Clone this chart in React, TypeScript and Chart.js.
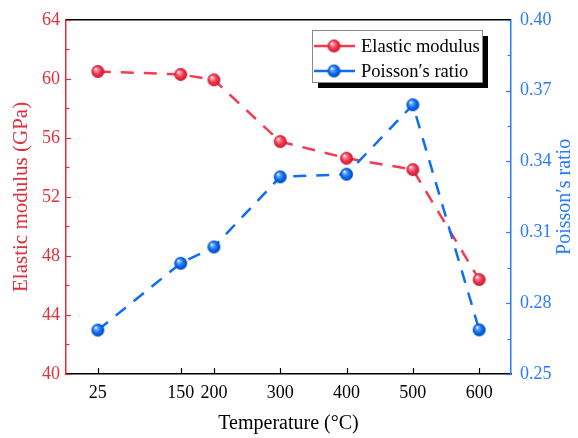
import React, { useEffect, useRef } from "react";
import { Chart, registerables } from "chart.js";

Chart.register(...registerables);

const temperatures = [25, 150, 200, 300, 400, 500, 600];
const elasticModulus = [60.5, 60.3, 59.93, 55.75, 54.62, 53.85, 46.4];
const poissonRatio = [0.2686, 0.2969, 0.3038, 0.3335, 0.3346, 0.364, 0.2687];

const xTicks = [25, 150, 200, 300, 400, 500, 600];
const leftTicks = [40, 44, 48, 52, 56, 60, 64];
const leftMinor = [42, 46, 50, 54, 58, 62];
const rightTicks = [0.25, 0.28, 0.31, 0.34, 0.37, 0.4];
const rightMinor = [0.265, 0.295, 0.325, 0.355, 0.385];

const labelModulus = "Elastic modulus";
const labelPoisson = "Poisson\u2032s ratio";
const titleX = "Temperature (\u00b0C)";
const titleLeft = "Elastic modulus (GPa)";
const titleRight = "Poisson\u2032s ratio";

const FONT = '"Liberation Serif", "Times New Roman", serif';
const RED_LINE = "#f63a52";
const RED_AXIS = "#e0303c";
const BLUE_LINE = "#0d6ef5";
const BLUE_AXIS = "#2a7bff";

function sphere(base: string, light: string, dark: string, r: number) {
  const c = document.createElement("canvas");
  const s = Math.ceil(r * 2 + 2);
  c.width = s;
  c.height = s;
  const g = c.getContext("2d")!;
  const cx = s / 2;
  const cy = s / 2;
  const grad = g.createRadialGradient(cx - r * 0.35, cy - r * 0.4, r * 0.05, cx, cy, r);
  grad.addColorStop(0, "#ffffff");
  grad.addColorStop(0.22, light);
  grad.addColorStop(0.6, base);
  grad.addColorStop(1, dark);
  g.fillStyle = grad;
  g.beginPath();
  g.arc(cx, cy, r, 0, Math.PI * 2);
  g.fill();
  return c;
}

export default function App() {
  const ref = useRef<HTMLCanvasElement | null>(null);

  useEffect(() => {
    if (!ref.current) return;
    const redBall = sphere("#f2334c", "#ff8a9a", "#c41a30", 6.5);
    const blueBall = sphere("#0a6cf2", "#6aa8ff", "#0048b8", 6.5);

    const line = (ctx: CanvasRenderingContext2D, x1: number, y1: number, x2: number, y2: number) => {
      ctx.beginPath();
      ctx.moveTo(x1, y1);
      ctx.lineTo(x2, y2);
      ctx.stroke();
    };

    const decor = {
      id: "decor",
      afterDraw(chart: any) {
        const ctx: CanvasRenderingContext2D = chart.ctx;
        const { left, right, top, bottom } = chart.chartArea;
        const sx = chart.scales.x;
        const sy = chart.scales.y;
        const sy1 = chart.scales.y1;
        ctx.save();
        ctx.setLineDash([]);
        // top border
        ctx.strokeStyle = "#000";
        ctx.lineWidth = 1.5;
        line(ctx, left, top, right, top);
        // x ticks (inward)
        ctx.lineWidth = 1.2;
        xTicks.forEach((v) => {
          const px = Math.round(sx.getPixelForValue(v)) + 0.5;
          line(ctx, px, bottom, px, bottom - 6);
        });
        // left ticks
        ctx.strokeStyle = RED_AXIS;
        leftTicks.forEach((v) => {
          const py = Math.round(sy.getPixelForValue(v)) + 0.5;
          line(ctx, left, py, left + 5, py);
        });
        leftMinor.forEach((v) => {
          const py = Math.round(sy.getPixelForValue(v)) + 0.5;
          line(ctx, left, py, left + 3.5, py);
        });
        // right ticks
        ctx.strokeStyle = BLUE_AXIS;
        rightTicks.forEach((v) => {
          const py = Math.round(sy1.getPixelForValue(v)) + 0.5;
          line(ctx, right, py, right - 5, py);
        });
        rightMinor.forEach((v) => {
          const py = Math.round(sy1.getPixelForValue(v)) + 0.5;
          line(ctx, right, py, right - 3.5, py);
        });
        // right title (reads bottom to top)
        ctx.save();
        ctx.translate(565, (top + bottom) / 2);
        ctx.rotate(-Math.PI / 2);
        ctx.fillStyle = BLUE_AXIS;
        ctx.font = `20px ${FONT}`;
        ctx.textAlign = "center";
        ctx.textBaseline = "middle";
        ctx.fillText(titleRight, 0, 0);
        ctx.restore();

        // legend
        const lx = 312;
        const ly = 30;
        const lw = 170;
        const lh = 52;
        ctx.fillStyle = "#000";
        ctx.fillRect(lx + 6, ly + 6, lw, lh);
        ctx.fillStyle = "#fff";
        ctx.fillRect(lx, ly, lw, lh);
        ctx.strokeStyle = "#8a8a8a";
        ctx.lineWidth = 1;
        ctx.strokeRect(lx + 0.5, ly + 0.5, lw, lh);
        const rows = [
          { label: labelModulus, color: RED_LINE, ball: redBall, y: ly + 16 },
          { label: labelPoisson, color: BLUE_LINE, ball: blueBall, y: ly + 41 },
        ];
        rows.forEach((r) => {
          ctx.strokeStyle = r.color;
          ctx.lineWidth = 2.5;
          line(ctx, lx + 2, r.y, lx + 43, r.y);
          ctx.drawImage(r.ball, lx + 22 - r.ball.width / 2, r.y - r.ball.height / 2);
          ctx.fillStyle = "#000";
          ctx.font = `18.5px ${FONT}`;
          ctx.textAlign = "left";
          ctx.textBaseline = "middle";
          ctx.fillText(r.label, lx + 49, r.y + 1);
        });
        ctx.restore();
      },
    };

    const tickFont = { family: FONT, size: 18 };

    const chart = new Chart(ref.current, {
      type: "line",
      data: {
        datasets: [
          {
            label: labelModulus,
            data: temperatures.map((t, i) => ({ x: t, y: elasticModulus[i] })),
            yAxisID: "y",
            borderColor: RED_LINE,
            backgroundColor: RED_LINE,
            borderWidth: 2.5,
            borderDash: [13, 10],
            pointStyle: redBall as any,
            pointRadius: 6.5,
            order: 1,
          },
          {
            label: labelPoisson,
            data: temperatures.map((t, i) => ({ x: t, y: poissonRatio[i] })),
            yAxisID: "y1",
            borderColor: BLUE_LINE,
            backgroundColor: BLUE_LINE,
            borderWidth: 2.5,
            borderDash: [13, 10],
            pointStyle: blueBall as any,
            pointRadius: 6.5,
            order: 0,
          },
        ],
      },
      options: {
        animation: false,
        responsive: true,
        maintainAspectRatio: false,
        layout: { padding: { top: 16, left: 0, right: 0, bottom: 0 } },
        plugins: { legend: { display: false }, tooltip: { enabled: false } },
        scales: {
          x: {
            type: "linear",
            min: -23,
            max: 648,
            afterBuildTicks: (s: any) => {
              s.ticks = xTicks.map((v) => ({ value: v }));
            },
            afterFit: (s: any) => {
              s.height = 64;
            },
            grid: { drawOnChartArea: false, drawTicks: false },
            border: { display: true, color: "#000", width: 1.5 },
            ticks: {
              font: tickFont,
              color: "#000",
              padding: 8,
              maxRotation: 0,
              autoSkip: false,
              callback: (v: any) => String(v),
            },
            title: {
              display: true,
              text: titleX,
              color: "#000",
              font: { family: FONT, size: 20 },
              padding: { top: 0, bottom: 2 },
            },
          },
          y: {
            type: "linear",
            position: "left",
            min: 40,
            max: 64,
            afterBuildTicks: (s: any) => {
              s.ticks = leftTicks.map((v) => ({ value: v }));
            },
            afterFit: (s: any) => {
              s.width = 66;
            },
            grid: { drawOnChartArea: false, drawTicks: false },
            border: { display: true, color: RED_AXIS, width: 1.5 },
            ticks: { font: tickFont, color: RED_AXIS, padding: 6 },
            title: {
              display: true,
              text: titleLeft,
              color: RED_AXIS,
              font: { family: FONT, size: 21 },
              padding: { top: 9, bottom: 0 },
            },
          },
          y1: {
            type: "linear",
            position: "right",
            min: 0.25,
            max: 0.4,
            afterBuildTicks: (s: any) => {
              s.ticks = rightTicks.map((v) => ({ value: v }));
            },
            afterFit: (s: any) => {
              s.width = 67;
            },
            grid: { drawOnChartArea: false, drawTicks: false },
            border: { display: true, color: BLUE_AXIS, width: 1.5 },
            ticks: {
              font: tickFont,
              color: BLUE_AXIS,
              padding: 9,
              callback: (v: any) => Number(v).toFixed(2),
            },
          },
        },
      },
      plugins: [decor],
    });
    return () => chart.destroy();
  }, []);

  return (
    <div style={{ position: "fixed", left: 0, top: 0, width: 578, height: 438, background: "#fff" }}>
      <canvas ref={ref} />
    </div>
  );
}
